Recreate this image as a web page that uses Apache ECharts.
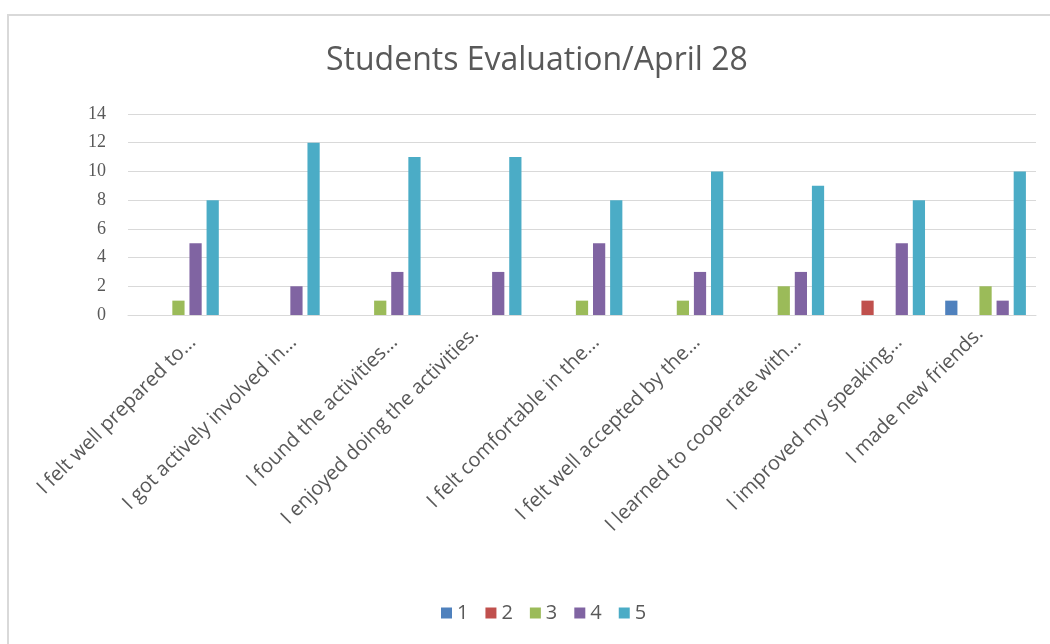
<!DOCTYPE html>
<html><head><meta charset="utf-8">
<script src="https://cdn.jsdelivr.net/npm/echarts@6/dist/echarts.min.js"></script>
<style>html,body{margin:0;padding:0;background:#fff}#c{width:1050px;height:644px}</style>
</head><body><div id="c"></div>
<script>
const categories = ["I felt well prepared to...", "I got actively involved in...", "I found the activities...", "I enjoyed doing the activities.", "I felt comfortable in the...", "I felt well accepted by the...", "I learned to cooperate with...", "I improved my speaking...", "I made new friends."];
const seriesNames = ["1", "2", "3", "4", "5"];
const s1 = [0, 0, 0, 0, 0, 0, 0, 0, 1];
const s2 = [0, 0, 0, 0, 0, 0, 0, 1, 0];
const s3 = [1, 0, 1, 0, 1, 1, 2, 0, 2];
const s4 = [5, 2, 3, 3, 5, 3, 3, 5, 1];
const s5 = [8, 12, 11, 11, 8, 10, 9, 8, 10];
const colors = ["#4F81BD", "#C0504D", "#9BBB59", "#8064A2", "#4BACC6"];
const values = [s1, s2, s3, s4, s5];
const font = "'Open Sans', 'Noto Sans', sans-serif";
const catData = categories.map(c => c.endsWith('...') ? c : {value: c, textStyle: {padding: [12, 8, 0, 0]}});
const chart = echarts.init(document.getElementById('c'));
chart.setOption({
  animation: false,
  color: colors,
  graphic: [{type: 'rect', shape: {x: 8, y: 15, width: 1100, height: 700}, style: {fill: 'none', stroke: '#d9d9d9', lineWidth: 2}, silent: true}],
  title: {text: 'Students Evaluation/April 28', left: 321, top: 40, textStyle: {fontFamily: font, fontSize: 32, fontWeight: 'normal', color: '#595959'}},
  legend: {data: seriesNames, bottom: 16, left: 436, icon: 'rect', itemWidth: 11, itemHeight: 11, itemGap: 17, textStyle: {fontFamily: font, fontSize: 20, color: '#595959'}},
  grid: {left: 128, right: 14, top: 114, bottom: 329},
  xAxis: {type: 'category', data: catData, axisTick: {show: false}, axisLine: {lineStyle: {color: '#d9d9d9'}},
    axisLabel: {rotate: 45, interval: 0, margin: 10, verticalAlign: 'top', padding: [10, 0, 0, 0], fontFamily: font, fontSize: 20, color: '#595959'}},
  yAxis: {type: 'value', min: 0, max: 14, interval: 2, axisLine: {show: false}, axisTick: {show: false},
    splitLine: {lineStyle: {color: '#d9d9d9'}},
    axisLabel: {margin: 22, fontFamily: "'Liberation Serif', serif", fontSize: 18, color: '#595959'}},
  series: seriesNames.map((n, i) => ({name: n, type: 'bar', data: values[i], barGap: '40%', barCategoryGap: '20%'}))
});
</script></body></html>
